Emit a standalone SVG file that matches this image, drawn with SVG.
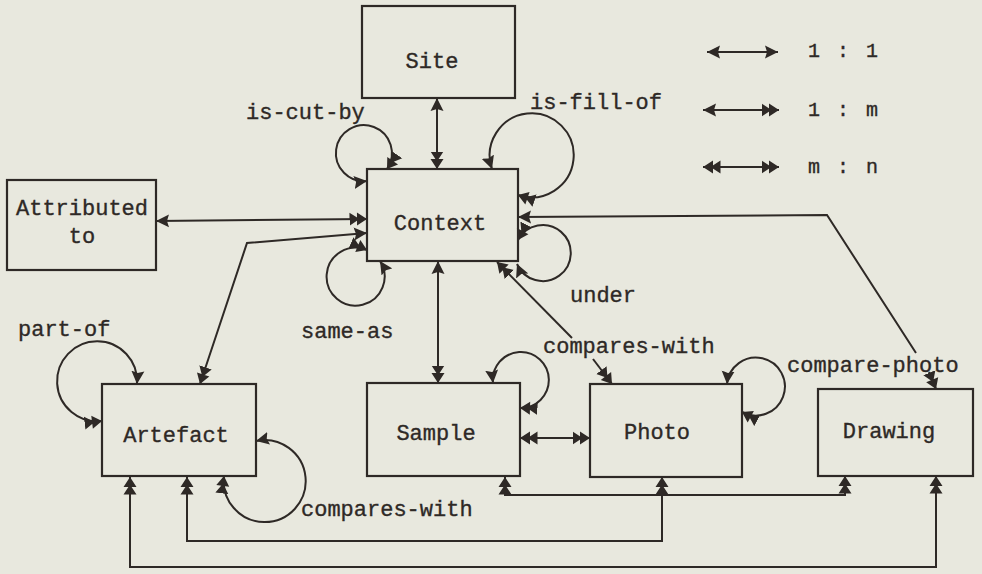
<svg xmlns="http://www.w3.org/2000/svg" width="982" height="574" viewBox="0 0 982 574">
<style>
.bg{fill:#e8e8de}
.box{fill:none;stroke:#2e2926;stroke-width:2.2}
.ln{fill:none;stroke:#2e2926;stroke-width:2}
.ah{fill:#2e2926}
text{font-family:"Liberation Mono","Courier New",monospace;font-size:22px;fill:#2e2926;stroke:#2e2926;stroke-width:0.35}
.c{text-anchor:middle}
.lg{font-size:20px;letter-spacing:2.5px}
</style>
<defs>
<marker id="one" markerUnits="userSpaceOnUse" viewBox="0 0 13 14" refX="13" refY="7" markerWidth="13" markerHeight="14" orient="auto-start-reverse"><path class="ah" d="M0,0.5 L13,7 L0,13.5 L2,7 Z"/></marker>
<marker id="many" markerUnits="userSpaceOnUse" viewBox="0 0 18 14" refX="17.5" refY="7" markerWidth="18" markerHeight="14" orient="auto-start-reverse"><path class="ah" d="M0,0.5 L10,7 L0,13.5 Z M7.5,0.5 L17.5,7 L7.5,13.5 Z"/></marker>
</defs>
<rect class="bg" x="0" y="0" width="982" height="574"/>

<g id="connectors">
<path class="ln" d="M437,98 L437,169" marker-start="url(#one)" marker-end="url(#many)"/>
<path class="ln" d="M367,181 A28,28 0 1 1 387,169" marker-start="url(#one)" marker-end="url(#many)"/>
<path class="ln" d="M492,169 A42,42 0 1 1 518,195" marker-start="url(#one)" marker-end="url(#many)"/>
<path class="ln" d="M156,221 L367,219" marker-start="url(#one)" marker-end="url(#many)"/>
<path class="ln" d="M367,233 L247,243 L200,384" marker-start="url(#one)" marker-end="url(#many)"/>
<path class="ln" d="M380,261 A29,29 0 1 1 367,250" marker-start="url(#one)" marker-end="url(#many)"/>
<path class="ln" d="M517,264 A28,28 0 1 0 518,240" marker-start="url(#one)" marker-end="url(#many)"/>
<path class="ln" d="M438,261 L438,383" marker-start="url(#one)" marker-end="url(#many)"/>
<path class="ln" d="M497,262 L572,338" marker-start="url(#many)"/>
<path class="ln" d="M593,359 L612,384" marker-end="url(#many)"/>
<path class="ln" d="M518,217 L827,215 L916,353" marker-start="url(#one)"/>
<path class="ln" d="M929,372 L936,389" marker-end="url(#many)"/>
<path class="ln" d="M493,383 A28,28 0 1 1 520,408" marker-start="url(#one)" marker-end="url(#many)"/>
<path class="ln" d="M520,438 L590,438" marker-start="url(#many)" marker-end="url(#many)"/>
<path class="ln" d="M727,384 A29,29 0 1 1 742,412" marker-start="url(#one)" marker-end="url(#many)"/>
<path class="ln" d="M137,384 A40,40 0 1 0 102,421" marker-start="url(#one)" marker-end="url(#many)"/>
<path class="ln" d="M256,441 A41,41 0 1 1 224,476" marker-start="url(#one)" marker-end="url(#many)"/>
<path class="ln" d="M505,477 L505,495 L845,495 L845,476" marker-start="url(#many)" marker-end="url(#many)"/>
<path class="ln" d="M187,477 L187,541 L662,541 L662,477" marker-start="url(#many)" marker-end="url(#many)"/>
<path class="ln" d="M130,477 L130,567 L936,567 L936,476" marker-start="url(#many)" marker-end="url(#many)"/>
</g>

<g id="edge-labels">
<text x="246" y="119">is-cut-by</text>
<text x="530" y="109">is-fill-of</text>
<text x="301" y="338">same-as</text>
<text x="570" y="302">under</text>
<text x="543" y="353">compares-with</text>
<text x="787" y="372">compare-photo</text>
<text x="18" y="336">part-of</text>
<text x="301" y="516">compares-with</text>
</g>

<g id="node-site"><rect class="box" x="362" y="6" width="153" height="92"/><text class="c" x="432" y="68">Site</text></g>
<g id="node-context"><rect class="box" x="367" y="169" width="151" height="92"/><text class="c" x="440" y="230">Context</text></g>
<g id="node-attributed"><rect class="box" x="7" y="180" width="149" height="90"/><text class="c" x="82" y="215">Attributed</text><text class="c" x="82" y="243">to</text></g>
<g id="node-artefact"><rect class="box" x="102" y="384" width="154" height="92"/><text class="c" x="176" y="442">Artefact</text></g>
<g id="node-sample"><rect class="box" x="367" y="383" width="153" height="93"/><text class="c" x="436" y="440">Sample</text></g>
<g id="node-photo"><rect class="box" x="590" y="384" width="152" height="93"/><text class="c" x="657" y="439">Photo</text></g>
<g id="node-drawing"><rect class="box" x="818" y="389" width="155" height="87"/><text class="c" x="889" y="438">Drawing</text></g>

<g id="legend">
<path class="ln" d="M707,52 L778,52" marker-start="url(#one)" marker-end="url(#one)"/>
<path class="ln" d="M703,110 L779,110" marker-start="url(#one)" marker-end="url(#many)"/>
<path class="ln" d="M703,167 L779,167" marker-start="url(#many)" marker-end="url(#many)"/>
<text class="lg" x="808" y="57">1 : 1</text>
<text class="lg" x="808" y="116">1 : m</text>
<text class="lg" x="808" y="173">m : n</text>
</g>
</svg>
